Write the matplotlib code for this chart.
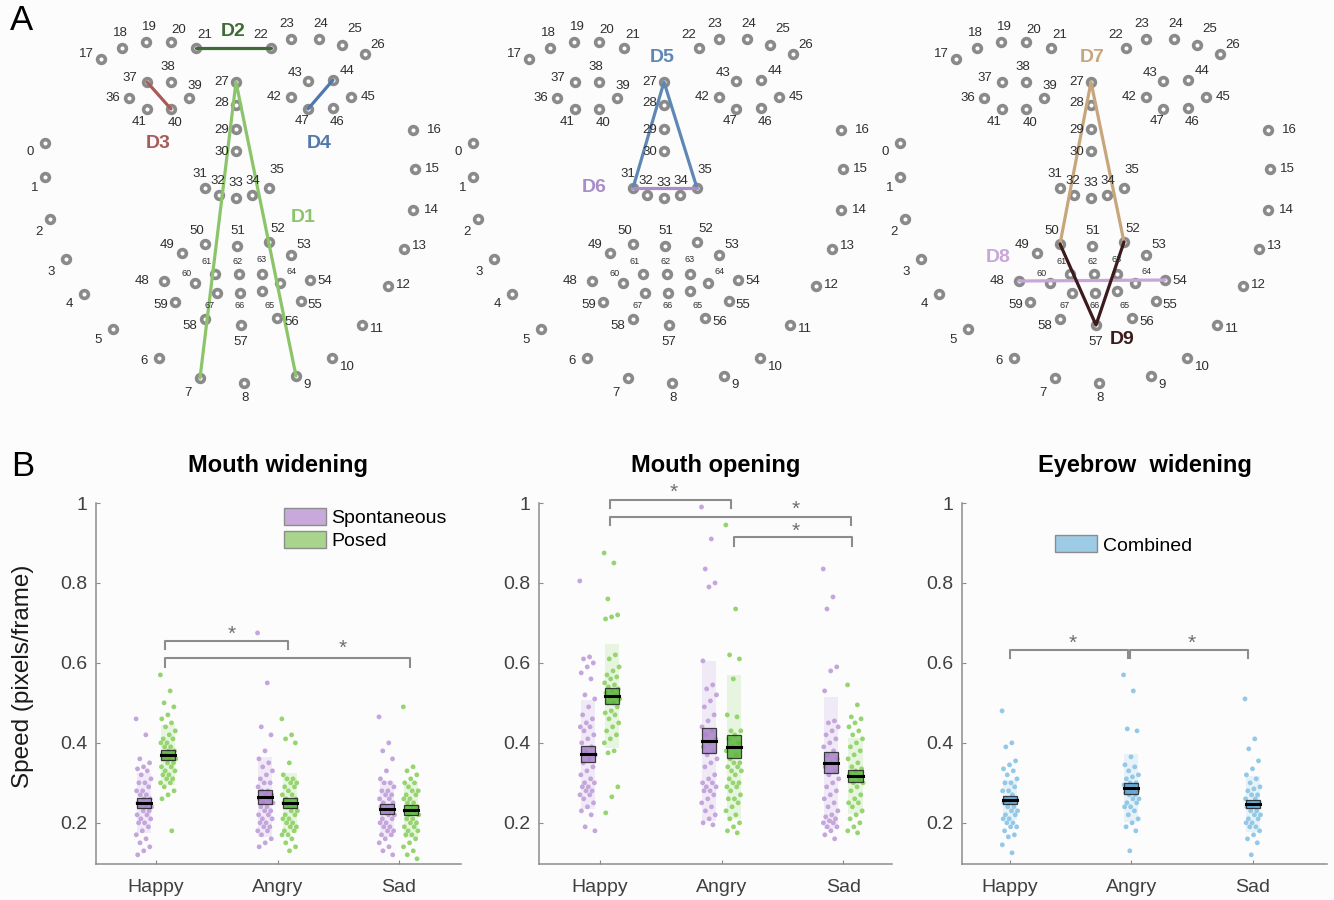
import numpy as np
import matplotlib.pyplot as plt
from matplotlib.patches import Patch, Rectangle

plt.rcParams['font.family'] = ['Liberation Sans', 'DejaVu Sans']

# ---- panel A: 68 facial landmarks (pixel layout of one face) ----
lm_x = [45, 45, 50, 66, 84, 113, 159, 200, 244, 296, 332, 362, 388, 404, 413, 415, 413,
        101, 122, 146, 171, 196, 271, 291, 319, 342, 365,
        236, 236, 236, 236, 205, 219, 236, 252, 269,
        129, 147, 171, 189, 171, 147, 291, 308, 333, 351, 333, 308,
        164, 182, 205, 237, 269, 291, 310, 301, 277, 241, 205, 175,
        195, 215, 239, 262, 280, 262, 240, 217]
lm_y = [143, 177, 219, 259, 294, 329, 358, 378, 383, 376, 358, 325, 286, 249, 210, 169, 130,
        59, 48, 42, 42, 48, 48, 39, 39, 45, 54,
        82, 105, 129, 151, 188, 195, 198, 195, 188,
        98, 82, 82, 98, 109, 109, 97, 81, 80, 97, 108, 109,
        281, 253, 244, 246, 242, 255, 280, 301, 318, 325, 319, 302,
        283, 274, 274, 274, 283, 291, 293, 293]
lab_dx = [-15, -10, -11, -15, -15, -15, -15, -12, 1, 11, 15, 15, 15, 15, 18, 17, 21,
          -15, -2, 3, 8, 9, -10, -4, 2, 13, 13,
          -14, -14, -14, -14, -5, -1, 0, 1, 8,
          -16, -17, -3, 6, 4, -8, -17, -13, 14, 17, 4, -6,
          -22, -15, -8, 1, 9, 13, 15, 14, 15, 0, -15, -14,
          -8, -8, -1, 0, 12, 8, 0, -7]
lab_dy = [9, 11, 13, 13, 10, 11, 3, 15, 15, 9, 9, 4, -1, -3, 0, 0, 0,
          -5, -15, -15, -12, -13, -13, -15, -15, -16, -9,
          0, -2, 1, 1, -14, -14, -15, -14, -18,
          0, -4, -15, -12, 14, 13, 0, -8, -9, 0, 14, 12,
          0, -8, -13, -15, -13, -10, 1, 4, 4, 17, 7, 3,
          -10, -13, -13, -15, -12, 14, 13, 12]
face_shift = [0, 428, 855]

d_name = ['D1', 'D2', 'D3', 'D4', 'D5', 'D6', 'D7', 'D8', 'D9']
d_face = [0, 0, 0, 0, 1, 1, 2, 2, 2]
d_path = [[7, 27, 9], [21, 22], [37, 40], [44, 47], [31, 27, 35], [31, 35],
          [50, 27, 52], [48, 54], [50, 57, 52]]
d_col = ['#8cc46a', '#3f6b36', '#a85b57', '#4f78ad', '#5f87b5', '#a98dc9',
         '#c8a67c', '#c8a6d8', '#3d1a1c']
d_lx = [303, 233, 158, 319, 234, 166, 237, 143, 267]
d_ly = [218, 32, 143, 144, 57, 187, 58, 258, 340]

# ---- panel B data ----
emotions = ['Happy', 'Angry', 'Sad']

# Mouth widening
mw_spont = [
    [0.46, 0.42, 0.36, 0.35, 0.34, 0.335, 0.33, 0.32, 0.31, 0.30, 0.30, 0.29, 0.28, 0.28, 0.27,
     0.27, 0.26, 0.26, 0.25, 0.25, 0.25, 0.24, 0.24, 0.24, 0.23, 0.23, 0.22, 0.22, 0.21, 0.21,
     0.20, 0.20, 0.19, 0.18, 0.17, 0.16, 0.15, 0.14, 0.13, 0.12],
    [0.675, 0.55, 0.44, 0.42, 0.38, 0.36, 0.35, 0.34, 0.33, 0.32, 0.31, 0.30, 0.30, 0.29, 0.28,
     0.28, 0.27, 0.27, 0.26, 0.26, 0.25, 0.25, 0.24, 0.24, 0.23, 0.23, 0.22, 0.22, 0.21, 0.21,
     0.20, 0.20, 0.19, 0.19, 0.18, 0.18, 0.17, 0.16, 0.15, 0.14],
    [0.465, 0.40, 0.38, 0.36, 0.33, 0.31, 0.30, 0.30, 0.29, 0.28, 0.28, 0.27, 0.27, 0.26, 0.26,
     0.25, 0.25, 0.24, 0.24, 0.23, 0.23, 0.22, 0.22, 0.21, 0.21, 0.20, 0.20, 0.19, 0.19, 0.18,
     0.18, 0.17, 0.17, 0.16, 0.15, 0.14, 0.13, 0.12]]
mw_posed = [
    [0.57, 0.53, 0.50, 0.49, 0.47, 0.46, 0.45, 0.44, 0.43, 0.42, 0.41, 0.41, 0.40, 0.40, 0.39,
     0.39, 0.38, 0.38, 0.37, 0.37, 0.37, 0.36, 0.36, 0.36, 0.35, 0.35, 0.34, 0.34, 0.33, 0.33,
     0.32, 0.32, 0.31, 0.31, 0.30, 0.30, 0.29, 0.28, 0.27, 0.26, 0.18],
    [0.46, 0.42, 0.41, 0.40, 0.35, 0.32, 0.31, 0.31, 0.30, 0.30, 0.29, 0.29, 0.28, 0.27, 0.27,
     0.26, 0.26, 0.25, 0.25, 0.24, 0.24, 0.23, 0.23, 0.22, 0.22, 0.21, 0.21, 0.20, 0.20, 0.19,
     0.19, 0.18, 0.18, 0.17, 0.17, 0.16, 0.15, 0.14, 0.13],
    [0.49, 0.34, 0.33, 0.32, 0.31, 0.30, 0.30, 0.29, 0.28, 0.28, 0.27, 0.27, 0.26, 0.26, 0.25,
     0.25, 0.24, 0.24, 0.23, 0.23, 0.22, 0.22, 0.21, 0.21, 0.20, 0.20, 0.19, 0.19, 0.18, 0.18,
     0.17, 0.17, 0.16, 0.15, 0.14, 0.13, 0.12, 0.11]]
mw_spont_mean = [0.25, 0.265, 0.234]
mw_posed_mean = [0.37, 0.25, 0.232]
mw_spont_sem = [0.012, 0.017, 0.012]
mw_posed_sem = [0.012, 0.012, 0.012]
mw_spont_sd = [0.075, 0.10, 0.07]
mw_posed_sd = [0.075, 0.075, 0.07]

# Mouth opening
mo_spont = [
    [0.805, 0.615, 0.61, 0.60, 0.59, 0.575, 0.56, 0.52, 0.51, 0.49, 0.47, 0.46, 0.45, 0.44, 0.44,
     0.43, 0.42, 0.41, 0.40, 0.39, 0.38, 0.37, 0.36, 0.35, 0.34, 0.33, 0.32, 0.31, 0.30, 0.30,
     0.29, 0.29, 0.28, 0.28, 0.27, 0.27, 0.26, 0.25, 0.24, 0.23, 0.22, 0.19, 0.18],
    [0.99, 0.91, 0.835, 0.80, 0.79, 0.605, 0.545, 0.535, 0.52, 0.505, 0.49, 0.47, 0.455, 0.44,
     0.43, 0.42, 0.41, 0.40, 0.39, 0.38, 0.37, 0.36, 0.35, 0.34, 0.32, 0.31, 0.30, 0.30, 0.29,
     0.29, 0.28, 0.28, 0.27, 0.26, 0.25, 0.24, 0.23, 0.22, 0.21, 0.20, 0.195],
    [0.835, 0.765, 0.735, 0.59, 0.58, 0.53, 0.455, 0.45, 0.44, 0.43, 0.42, 0.41, 0.40, 0.39,
     0.38, 0.37, 0.36, 0.35, 0.34, 0.33, 0.32, 0.31, 0.30, 0.29, 0.28, 0.27, 0.26, 0.25, 0.24,
     0.23, 0.22, 0.215, 0.21, 0.205, 0.20, 0.20, 0.19, 0.19, 0.18, 0.17, 0.16]]
mo_posed = [
    [0.875, 0.85, 0.76, 0.72, 0.715, 0.71, 0.62, 0.61, 0.59, 0.58, 0.57, 0.565, 0.56, 0.55,
     0.545, 0.54, 0.535, 0.53, 0.525, 0.52, 0.515, 0.51, 0.50, 0.50, 0.49, 0.48, 0.475, 0.47,
     0.46, 0.45, 0.44, 0.43, 0.42, 0.41, 0.40, 0.38, 0.375, 0.29, 0.265, 0.225],
    [0.945, 0.735, 0.62, 0.61, 0.56, 0.47, 0.465, 0.43, 0.43, 0.42, 0.41, 0.40, 0.39, 0.38,
     0.37, 0.36, 0.35, 0.35, 0.34, 0.34, 0.33, 0.33, 0.32, 0.31, 0.30, 0.30, 0.29, 0.29, 0.28,
     0.27, 0.26, 0.26, 0.25, 0.24, 0.23, 0.22, 0.21, 0.20, 0.19, 0.18, 0.175],
    [0.545, 0.495, 0.465, 0.46, 0.45, 0.44, 0.43, 0.42, 0.41, 0.40, 0.39, 0.38, 0.37, 0.36,
     0.35, 0.34, 0.335, 0.33, 0.32, 0.31, 0.30, 0.30, 0.29, 0.28, 0.27, 0.26, 0.25, 0.25, 0.24,
     0.23, 0.22, 0.21, 0.20, 0.19, 0.18, 0.175]]
mo_spont_mean = [0.371, 0.405, 0.35]
mo_posed_mean = [0.518, 0.39, 0.318]
mo_spont_sem = [0.02, 0.031, 0.026]
mo_posed_sem = [0.02, 0.029, 0.015]
mo_spont_sd = [0.136, 0.20, 0.165]
mo_posed_sd = [0.13, 0.18, 0.095]

# Eyebrow widening (combined)
ew_comb = [
    [0.48, 0.40, 0.39, 0.355, 0.345, 0.335, 0.33, 0.32, 0.31, 0.30, 0.30, 0.29, 0.28, 0.28,
     0.27, 0.26, 0.26, 0.25, 0.25, 0.24, 0.24, 0.23, 0.23, 0.22, 0.22, 0.21, 0.21, 0.20, 0.20,
     0.19, 0.19, 0.18, 0.17, 0.165, 0.145, 0.125],
    [0.57, 0.53, 0.435, 0.43, 0.365, 0.345, 0.34, 0.33, 0.32, 0.315, 0.31, 0.30, 0.30, 0.295,
     0.29, 0.29, 0.28, 0.28, 0.275, 0.27, 0.27, 0.26, 0.26, 0.25, 0.25, 0.24, 0.24, 0.23, 0.22,
     0.21, 0.20, 0.19, 0.18, 0.13],
    [0.51, 0.41, 0.385, 0.355, 0.335, 0.32, 0.31, 0.30, 0.29, 0.285, 0.28, 0.27, 0.27, 0.26,
     0.26, 0.25, 0.25, 0.24, 0.24, 0.23, 0.23, 0.22, 0.22, 0.21, 0.21, 0.20, 0.20, 0.19, 0.19,
     0.18, 0.17, 0.16, 0.15, 0.12]]
ew_mean = [0.256, 0.286, 0.248]
ew_sem = [0.01, 0.013, 0.01]
ew_sd = [0.05, 0.085, 0.07]

# significance brackets: (x1, x2, y, drop, star x, star y)
mw_sig = [(1.074, 2.086, 0.655, 0.634, 1.62, 0.672), (1.074, 3.09, 0.612, 0.591, 2.54, 0.637)]
mo_sig = [(1.08, 2.08, 1.008, 0.988, 1.61, 1.027), (1.08, 3.06, 0.965, 0.946, 2.61, 0.984),
          (2.10, 3.07, 0.914, 0.893, 2.61, 0.930)]
ew_sig = [(1.0, 1.97, 0.633, 0.612, 1.52, 0.650), (1.99, 2.96, 0.633, 0.612, 2.50, 0.650)]

PURPLE, PURPLE_BOX = '#c4a5dc', '#a884c8'
GREEN, GREEN_BOX = '#95d46e', '#5cb53e'
BLUE, BLUE_BOX = '#93c8e6', '#5ea3d0'
GREY = '#8c8c8c'
TXT = '#404040'

fig = plt.figure(figsize=(13.34, 9), dpi=100)
fig.patch.set_facecolor('#fcfcfd')

# ---------- faces ----------
axf = fig.add_axes([0, 0.55, 1, 0.45])
axf.set_xlim(0, 1334)
axf.set_ylim(405, 0)
axf.axis('off')
for sh in face_shift:
    xs = np.array(lm_x) + sh
    ys = np.array(lm_y)
    axf.plot(xs, ys, 'o', ms=5.6, mfc='white', mec='#8a8a8a', mew=2.6, ls='none', zorder=2)
    for i in range(68):
        small = i >= 60
        axf.text(xs[i] + lab_dx[i], ys[i] + lab_dy[i], str(i), ha='center', va='center',
                 fontsize=6.5 if small else 9.5, color='#2e2e2e', zorder=4)
for k in range(9):
    sh = face_shift[d_face[k]]
    px = [lm_x[j] + sh for j in d_path[k]]
    py = [lm_y[j] for j in d_path[k]]
    axf.plot(px, py, color=d_col[k], lw=2.3, zorder=3, solid_capstyle='round')
    axf.text(d_lx[k] + sh, d_ly[k], d_name[k], ha='center', va='center', fontsize=14,
             fontweight='bold', color=d_col[k], zorder=5)

fig.text(22 / 1334, 1 - 20 / 900, 'A', fontsize=25, ha='center', va='center')
fig.text(23 / 1334, 1 - 466 / 900, 'B', fontsize=25, ha='center', va='center')


# ---------- scatter panels ----------
def draw_group(ax, x, vals, mean, sem, sd, dot_col, box_col):
    n = len(vals)
    jit = ((np.arange(n) * 0.618034) % 1 - 0.5) * 0.13
    ax.add_patch(Rectangle((x - 0.058, mean - sd), 0.116, 2 * sd, fc=dot_col, alpha=0.2,
                           ec='none', zorder=1))
    ax.scatter(x + jit, vals, s=12, c=dot_col, edgecolors='none', zorder=2)
    ax.add_patch(Rectangle((x - 0.058, mean - sem), 0.116, 2 * sem, fc=box_col, alpha=0.85,
                           ec='#222222', lw=0.9, zorder=3))
    ax.plot([x - 0.058, x + 0.058], [mean, mean], color='k', lw=2.2, zorder=4)


def draw_sig(ax, sig):
    for x1, x2, y, drop, sx, sy in sig:
        ax.plot([x1, x1, x2, x2], [drop, y, y, drop], color=GREY, lw=1.5, clip_on=False)
        ax.text(sx, sy, '*', ha='center', va='center', fontsize=15, color='#6e6e6e',
                clip_on=False)


def style(ax, xlim, title):
    ax.set_xlim(*xlim)
    ax.set_ylim(0.097, 1.0)
    for s in ['top', 'right']:
        ax.spines[s].set_visible(False)
    for s in ['left', 'bottom']:
        ax.spines[s].set_color(GREY)
        ax.spines[s].set_linewidth(1.1)
    ax.set_xticks([1, 2, 3])
    ax.set_xticklabels(emotions)
    ax.set_yticks([0.2, 0.4, 0.6, 0.8, 1.0])
    ax.set_yticklabels(['0.2', '0.4', '0.6', '0.8', '1'])
    ax.tick_params(direction='in', length=3, color=GREY, labelsize=14, labelcolor=TXT)
    ax.tick_params(axis='x', pad=11)
    ax.tick_params(axis='y', pad=6)
    ax.set_facecolor('none')
    ax.set_title(title, fontsize=17, fontweight='bold', pad=22)


b = 1 - 864 / 900
h = 361 / 900
ax1 = fig.add_axes([96 / 1334, b, 365 / 1334, h])
ax2 = fig.add_axes([539 / 1334, b, 353 / 1334, h])
ax3 = fig.add_axes([962 / 1334, b, 365 / 1334, h])

for i in range(3):
    draw_group(ax1, i + 0.9, mw_spont[i], mw_spont_mean[i], mw_spont_sem[i], mw_spont_sd[i],
               PURPLE, PURPLE_BOX)
    draw_group(ax1, i + 1.1, mw_posed[i], mw_posed_mean[i], mw_posed_sem[i], mw_posed_sd[i],
               GREEN, GREEN_BOX)
    draw_group(ax2, i + 0.9, mo_spont[i], mo_spont_mean[i], mo_spont_sem[i], mo_spont_sd[i],
               PURPLE, PURPLE_BOX)
    draw_group(ax2, i + 1.1, mo_posed[i], mo_posed_mean[i], mo_posed_sem[i], mo_posed_sd[i],
               GREEN, GREEN_BOX)
    draw_group(ax3, i + 1.0, ew_comb[i], ew_mean[i], ew_sem[i], ew_sd[i], BLUE, BLUE_BOX)

style(ax1, (0.505, 3.51), 'Mouth widening')
style(ax2, (0.5, 3.4), 'Mouth opening')
style(ax3, (0.605, 3.61), 'Eyebrow  widening')
draw_sig(ax1, mw_sig)
draw_sig(ax2, mo_sig)
draw_sig(ax3, ew_sig)

ax1.set_ylabel('Speed (pixels/frame)', fontsize=17.5, color='#1a1a1a')
ax1.yaxis.set_label_coords(-0.17, 0.52)

h1 = [Patch(fc='#c8a9dc', ec=GREY, lw=1), Patch(fc='#a8d48c', ec=GREY, lw=1)]
ax1.legend(h1, ['Spontaneous', 'Posed'], loc='upper left', bbox_to_anchor=(0.515, 0.985),
           frameon=False, fontsize=14, handlelength=2.15, handleheight=0.95,
           handletextpad=0.3, labelspacing=0.2, borderpad=0, borderaxespad=0)
h3 = [Patch(fc='#9dcbe6', ec=GREY, lw=1)]
ax3.legend(h3, ['Combined'], loc='upper left', bbox_to_anchor=(0.255, 0.91),
           frameon=False, fontsize=14, handlelength=2.15, handleheight=0.95,
           handletextpad=0.3, borderpad=0, borderaxespad=0)

fig.savefig('out.png', dpi=100, facecolor=fig.get_facecolor())
